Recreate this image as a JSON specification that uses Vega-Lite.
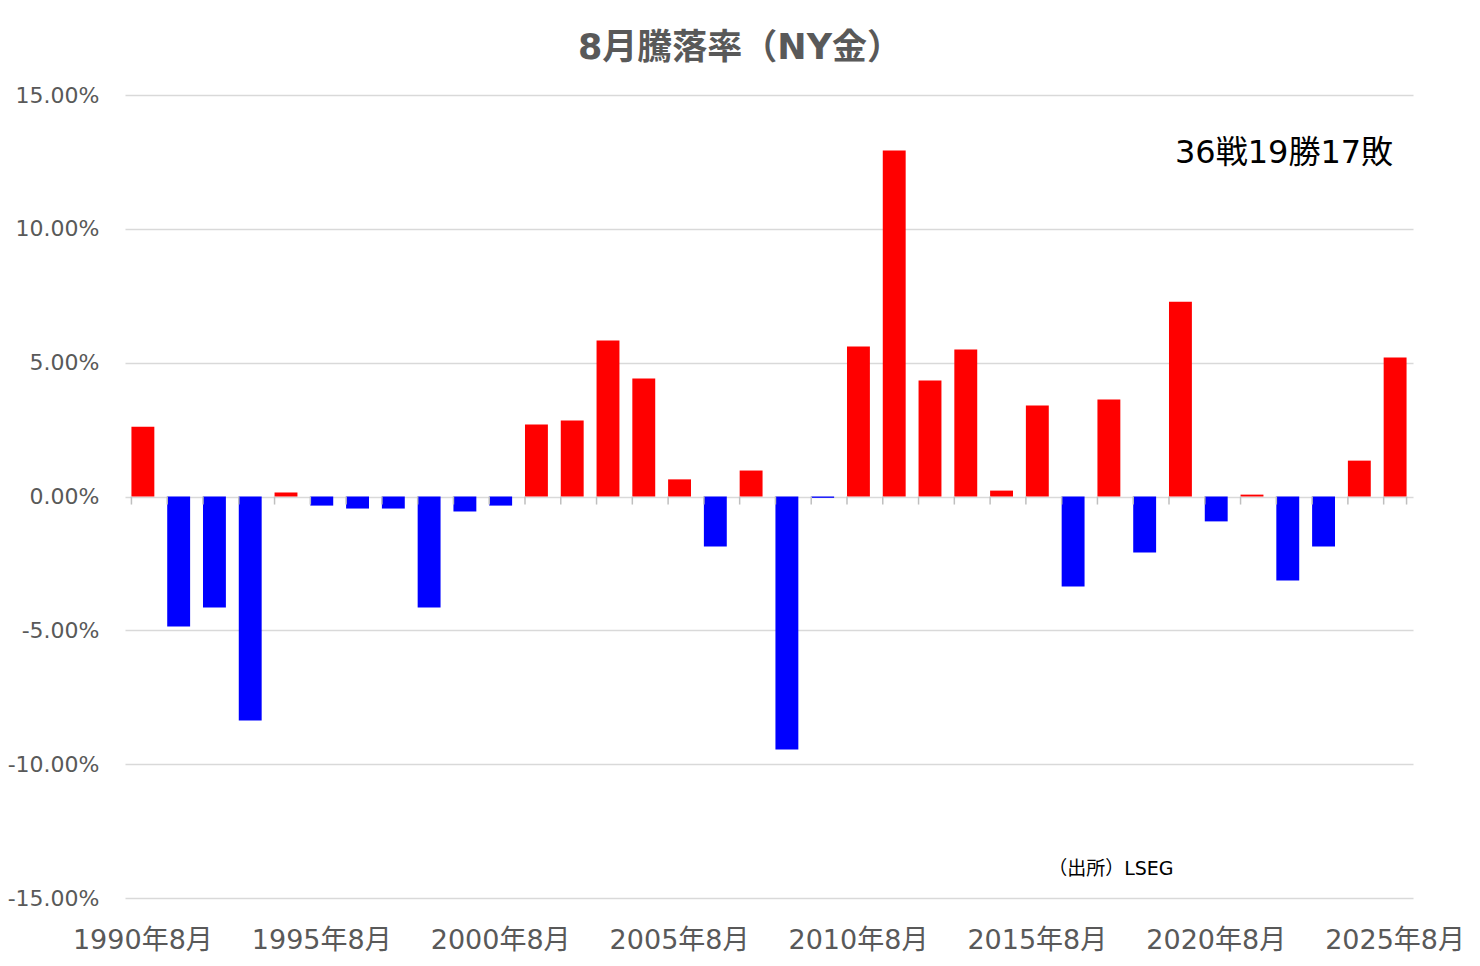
{
  "$schema": "https://vega.github.io/schema/vega-lite/v6.json",
  "autosize": "none",
  "width": 1288,
  "height": 803,
  "padding": {"left": 125, "top": 95, "right": 67, "bottom": 68},
  "background": "white",
  "title": {
    "text": "8月騰落率（NY金）",
    "anchor": "middle",
    "frame": "group",
    "dx": -29,
    "offset": -10,
    "baseline": "alphabetic",
    "font": "DejaVu Sans, Noto Sans CJK JP",
    "fontSize": 35,
    "fontWeight": "bold",
    "color": "#595959"
  },
  "data": {
    "values": [
      {"month": "1990年8月", "value": 0.0261},
      {"month": "1991年8月", "value": -0.0486},
      {"month": "1992年8月", "value": -0.0415},
      {"month": "1993年8月", "value": -0.0837},
      {"month": "1994年8月", "value": 0.0015},
      {"month": "1995年8月", "value": -0.0034},
      {"month": "1996年8月", "value": -0.0045},
      {"month": "1997年8月", "value": -0.0045},
      {"month": "1998年8月", "value": -0.0415},
      {"month": "1999年8月", "value": -0.0056},
      {"month": "2000年8月", "value": -0.0034},
      {"month": "2001年8月", "value": 0.0269},
      {"month": "2002年8月", "value": 0.0284},
      {"month": "2003年8月", "value": 0.0583},
      {"month": "2004年8月", "value": 0.0441},
      {"month": "2005年8月", "value": 0.0064},
      {"month": "2006年8月", "value": -0.0187},
      {"month": "2007年8月", "value": 0.0097},
      {"month": "2008年8月", "value": -0.0945},
      {"month": "2009年8月", "value": -0.0005},
      {"month": "2010年8月", "value": 0.056},
      {"month": "2011年8月", "value": 0.1293},
      {"month": "2012年8月", "value": 0.0433},
      {"month": "2013年8月", "value": 0.0549},
      {"month": "2014年8月", "value": 0.0022},
      {"month": "2015年8月", "value": 0.034},
      {"month": "2016年8月", "value": -0.0336},
      {"month": "2017年8月", "value": 0.0362},
      {"month": "2018年8月", "value": -0.0209},
      {"month": "2019年8月", "value": 0.0728},
      {"month": "2020年8月", "value": -0.0093},
      {"month": "2021年8月", "value": 0.0007},
      {"month": "2022年8月", "value": -0.0314},
      {"month": "2023年8月", "value": -0.0187},
      {"month": "2024年8月", "value": 0.0134},
      {"month": "2025年8月", "value": 0.0519}
    ]
  },
  "encoding": {
    "x": {
      "field": "month",
      "type": "ordinal",
      "sort": null,
      "scale": {"paddingInner": 0.36, "paddingOuter": 0.18},
      "axis": {
        "title": null,
        "values": ["1990年8月", "1995年8月", "2000年8月", "2005年8月", "2010年8月", "2015年8月", "2020年8月", "2025年8月"],
        "labelAngle": 0,
        "labelPadding": 29,
        "labelBaseline": "top",
        "labelFont": "DejaVu Sans, Noto Sans CJK JP",
        "labelFontSize": 27,
        "labelColor": "#595959",
        "ticks": false,
        "domain": false,
        "grid": false
      }
    }
  },
  "layer": [
    {
      "mark": {"type": "bar"},
      "encoding": {
        "y": {
          "field": "value",
          "type": "quantitative",
          "scale": {"domain": [-0.15, 0.15], "nice": false},
          "axis": {
            "title": null,
            "values": [-0.15, -0.1, -0.05, 0, 0.05, 0.1, 0.15],
            "labelExpr": "(datum.value < 0 ? '-' : '') + format(abs(datum.value), '.2%')",
            "labelFont": "DejaVu Sans",
            "labelFontSize": 22,
            "labelColor": "#595959",
            "labelPadding": 26,
            "ticks": false,
            "domain": false,
            "grid": true,
            "gridColor": "#d9d9d9",
            "gridWidth": 1.5
          }
        },
        "color": {
          "condition": {"test": "datum.value >= 0", "value": "#ff0000"},
          "value": "#0000ff"
        }
      }
    },
    {
      "mark": {"type": "rule", "color": "#bfbfbf", "strokeWidth": 1.5},
      "encoding": {
        "x": {"field": "month", "type": "ordinal", "sort": null, "bandPosition": 0},
        "y": {"datum": 0},
        "y2": {"datum": -0.003}
      }
    },
    {
      "transform": [{"filter": "datum.month === '2025年8月'"}],
      "mark": {"type": "rule", "color": "#bfbfbf", "strokeWidth": 1.5},
      "encoding": {
        "x": {"field": "month", "type": "ordinal", "sort": null, "bandPosition": 1},
        "y": {"datum": 0},
        "y2": {"datum": -0.003}
      }
    },
    {
      "data": {"values": [{}]},
      "mark": {
        "type": "text",
        "align": "right",
        "baseline": "middle",
        "dx": -2,
        "font": "DejaVu Sans, Noto Sans CJK JP",
        "fontSize": 32,
        "color": "#000000"
      },
      "encoding": {
        "x": {"datum": "2025年8月"},
        "y": {"datum": 0.1285},
        "text": {"value": "36戦19勝17敗"}
      }
    },
    {
      "data": {"values": [{}]},
      "mark": {
        "type": "text",
        "align": "center",
        "baseline": "middle",
        "dx": 2,
        "font": "DejaVu Sans, Noto Sans CJK JP",
        "fontSize": 19,
        "color": "#000000"
      },
      "encoding": {
        "x": {"datum": "2017年8月"},
        "y": {"datum": -0.1393},
        "text": {"value": "（出所）LSEG"}
      }
    }
  ],
  "config": {
    "view": {"stroke": null}
  }
}
